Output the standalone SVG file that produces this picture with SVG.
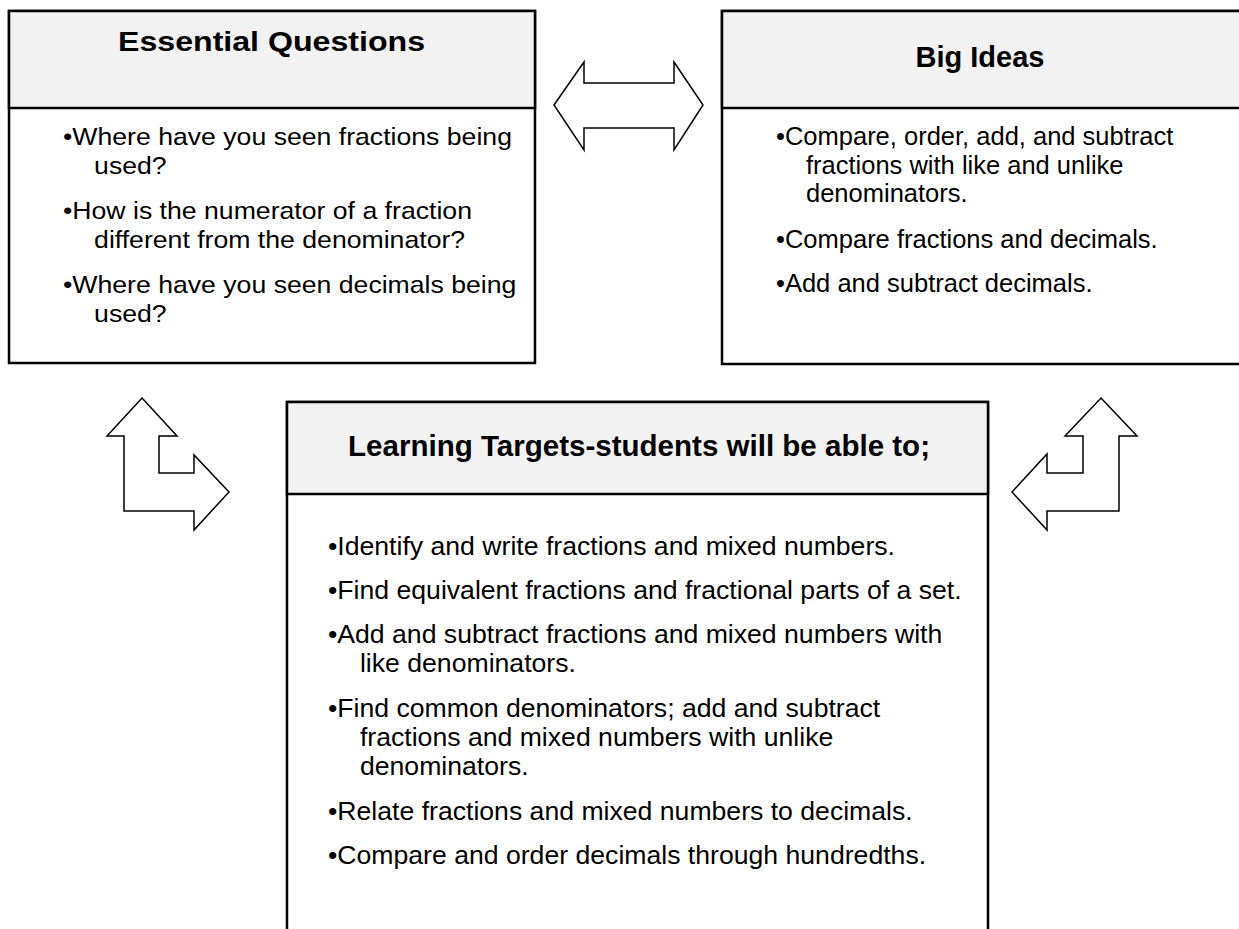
<svg xmlns="http://www.w3.org/2000/svg" width="1239" height="929" viewBox="0 0 1239 929">
<style>
.box{fill:#ffffff;stroke:#000000;stroke-width:2.5}
.hdr{fill:#f2f2f2;stroke:#000000;stroke-width:2.5}
.title{font-family:"Liberation Sans",Arial,sans-serif;font-weight:bold;fill:#000}
.body{font-family:"Liberation Sans",Arial,sans-serif;fill:#000}
.arrow{fill:#ffffff;stroke:#000000;stroke-width:1.5;stroke-linejoin:miter}
</style>
<rect width="1239" height="929" fill="#ffffff"/>
<g id="essential-questions">
<rect class="box" x="9" y="11" width="526" height="352"/>
<rect class="hdr" x="9" y="11" width="526" height="97"/>
<text class="title" x="118" y="51" font-size="28" textLength="307" lengthAdjust="spacingAndGlyphs">Essential Questions</text>
<g transform="translate(63 0) scale(1.11 1)">
<text class="body" font-size="24"><tspan x="0" y="145">•Where have you seen fractions being</tspan><tspan x="28" y="174">used?</tspan><tspan x="0" y="219">•How is the numerator of a fraction</tspan><tspan x="28" y="248">different from the denominator?</tspan><tspan x="0" y="293">•Where have you seen decimals being</tspan><tspan x="28" y="322">used?</tspan></text>
</g>
</g>
<g id="big-ideas">
<rect class="box" x="722" y="11" width="530" height="353"/>
<rect class="hdr" x="722" y="11" width="530" height="97"/>
<text class="title" x="980" y="67" font-size="29" text-anchor="middle">Big Ideas</text>
<text class="body" font-size="25.5"><tspan x="776" y="145">•Compare, order, add, and subtract</tspan><tspan x="806" y="174">fractions with like and unlike</tspan><tspan x="806" y="202">denominators.</tspan><tspan x="776" y="248">•Compare fractions and decimals.</tspan><tspan x="776" y="292">•Add and subtract decimals.</tspan></text>
</g>
<g id="learning-targets">
<rect class="box" x="287" y="402" width="701" height="540"/>
<rect class="hdr" x="287" y="402" width="701" height="92"/>
<text class="title" x="348" y="456" font-size="30" textLength="582" lengthAdjust="spacingAndGlyphs">Learning Targets-students will be able to;</text>
<g transform="translate(328 0) scale(1.065 1)">
<text class="body" font-size="25"><tspan x="0" y="555">•Identify and write fractions and mixed numbers.</tspan><tspan x="0" y="599">•Find equivalent fractions and fractional parts of a set.</tspan><tspan x="0" y="643">•Add and subtract fractions and mixed numbers with</tspan><tspan x="30" y="672">like denominators.</tspan><tspan x="0" y="717">•Find common denominators; add and subtract</tspan><tspan x="30" y="746">fractions and mixed numbers with unlike</tspan><tspan x="30" y="775">denominators.</tspan><tspan x="0" y="820">•Relate fractions and mixed numbers to decimals.</tspan><tspan x="0" y="864">•Compare and order decimals through hundredths.</tspan></text>
</g>
</g>
<g id="connectors">
<polygon id="arrow-top" class="arrow" points="554,105 584,62 584,83 674,83 674,62 703,105 674,150 674,128 584,128 584,150"/>
<polygon id="arrow-left" class="arrow" points="142,398 177,436 159,436 159,473 194,473 194,455 229,492 194,530 194,511 124,511 124,436 107,436"/>
<polygon id="arrow-right" class="arrow" points="1101,398 1137,436 1119,436 1119,511 1047,511 1047,530 1012,492 1047,454 1047,473 1083,473 1083,436 1065,436"/>
</g>
</svg>
